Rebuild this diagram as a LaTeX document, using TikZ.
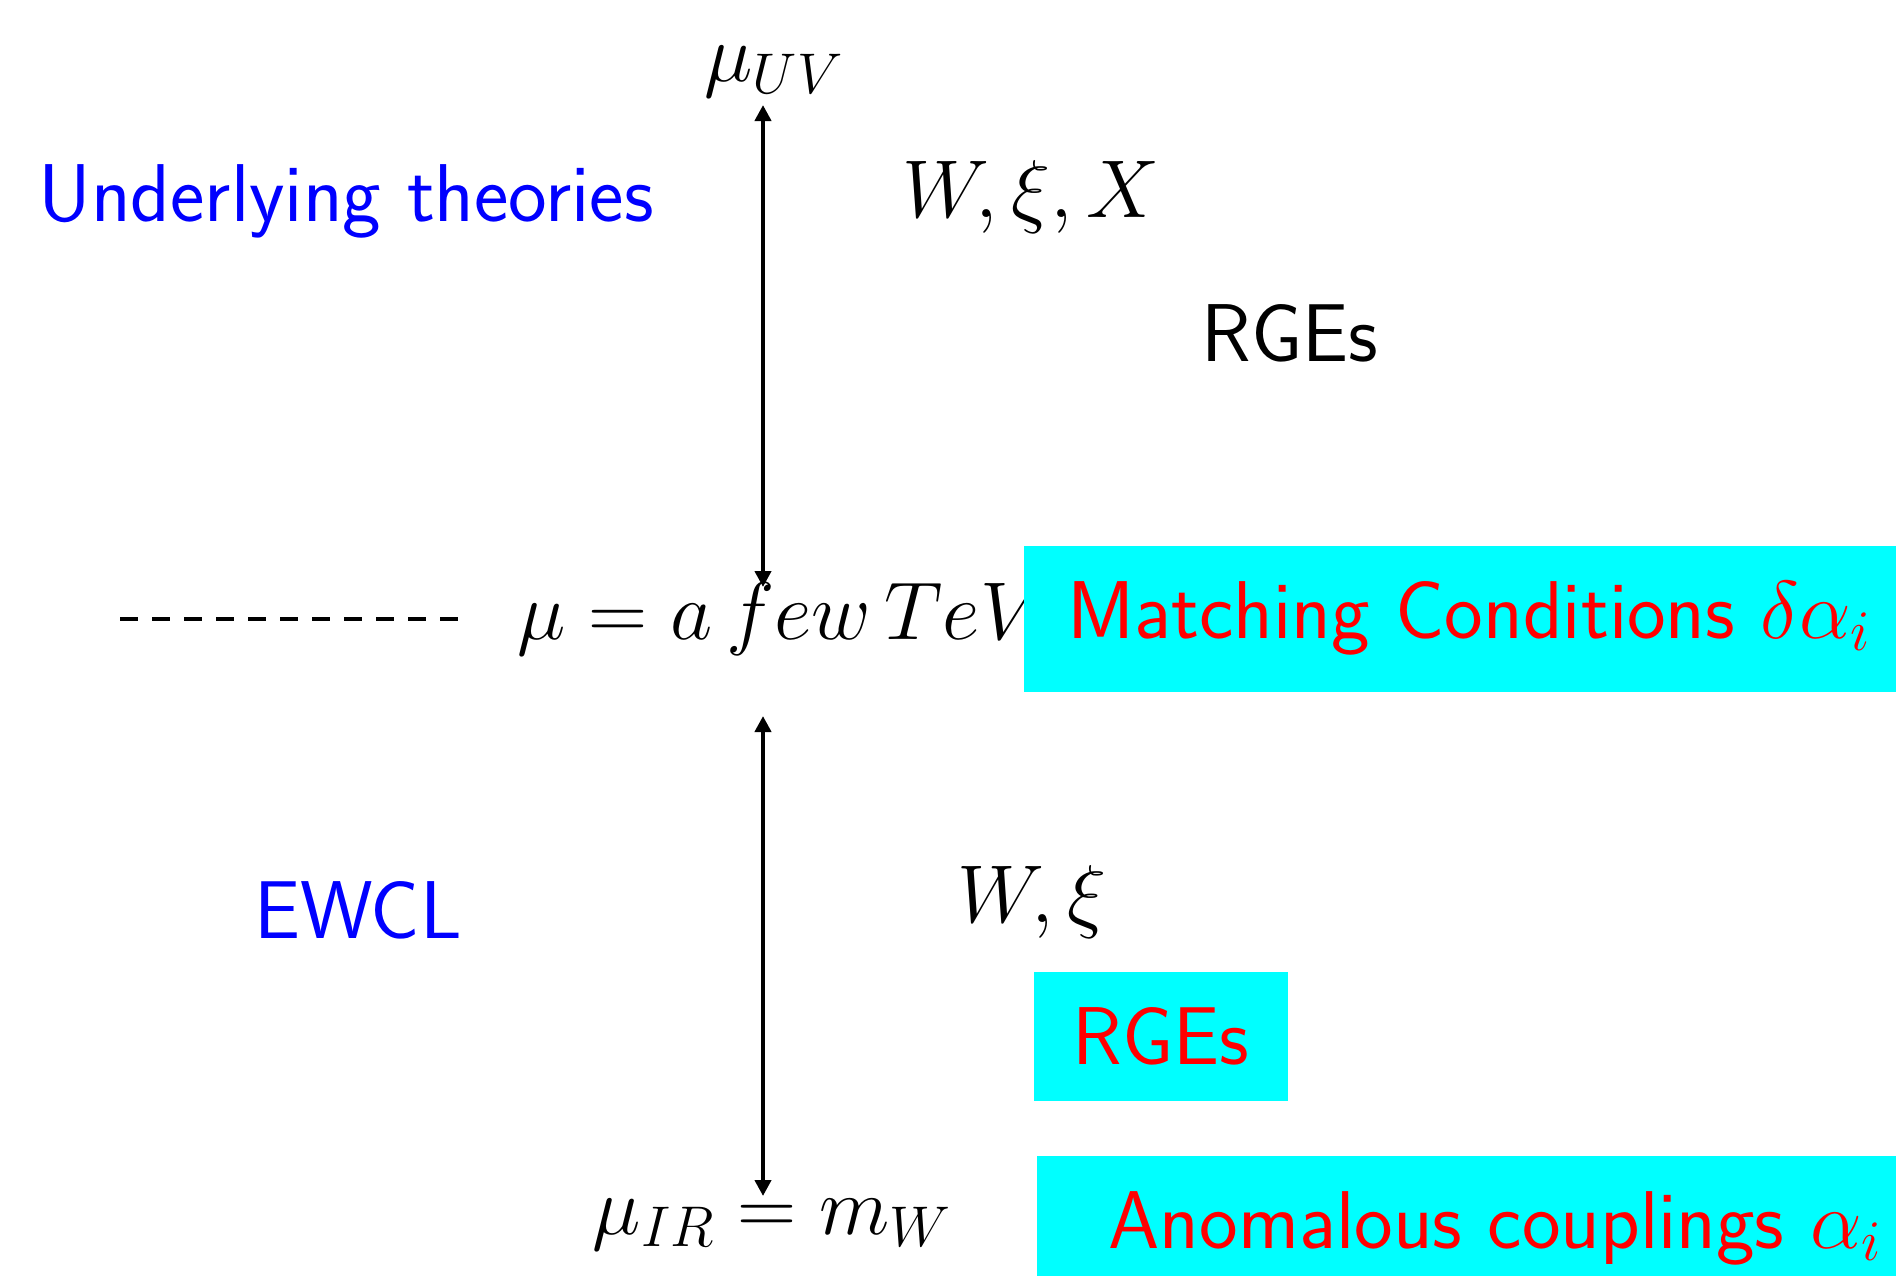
\RequirePackage{fix-cm}
\documentclass[tikz,border=0pt]{standalone}
\usetikzlibrary{arrows.meta}
\definecolor{boxcyan}{RGB}{0,255,255}
\definecolor{pureblue}{RGB}{0,0,255}
\definecolor{purered}{RGB}{255,0,0}
\begin{document}
\begin{tikzpicture}[x=0.5pt,y=-0.5pt,
  font=\fontsize{41}{48}\selectfont\sffamily,
  blu/.style={text=pureblue, inner sep=0pt},
  mth/.style={inner sep=0pt},
  rtxt/.style={text=purered, inner sep=0pt},
  cbox/.style={fill=boxcyan, draw=none, inner sep=0pt},
  sarrow/.style={line width=2pt, {Triangle[length=8pt,width=8pt]}-{Triangle[length=8pt,width=8pt]}},
  dashline/.style={line width=2pt, dash pattern=on 9pt off 7pt}]
\clip (0,0) rectangle (1896,1275);
% scale labels
\node[mth] (muUV) at (774,72) {$\mu_{UV}$};
\node[mth, anchor=base west] (tev) at (517,639) {$\mu = a\, few\, TeV$};
\node[mth] (muIR) at (772,1225) {$\mu_{IR} = m_W$};
% arrows
\coordinate (upT) at (763,105);
\coordinate (upB) at (763,587);
\coordinate (loT) at (763,716);
\coordinate (loB) at (763,1196);
\draw[sarrow] (upB) -- (upT);
\draw[sarrow] (loB) -- (loT);
% dashed line
\coordinate (dashL) at (120,619);
\coordinate (dashR) at (459,619);
\draw[dashline] (dashL) -- (dashR);
% left labels
\node[blu] (under) at (346,201) {Underlying theories};
\node[blu] (ewcl) at (358,910) {EWCL};
% right labels
\node[mth] (wxix) at (1031,197) {$W, \xi, X$};
\node[inner sep=0pt] (rge1) at (1290,333) {RGEs};
\node[mth] (wxi) at (1032,902) {$W, \xi$};
% boxes
\node[cbox, minimum width=436pt, minimum height=73pt] (box1) at (1460,619) {};
\node[rtxt] (match) at (1469,618) {Matching Conditions $\delta\alpha_i$};
\node[cbox, text=purered, minimum width=127pt, minimum height=64.5pt] (rge2) at (1161,1036.5) {RGEs};
\node[cbox, minimum width=429.5pt, minimum height=69pt] (box3) at (1466.5,1225) {};
\node[rtxt] (anom) at (1495,1228) {Anomalous couplings $\alpha_i$};
\end{tikzpicture}
\end{document}
